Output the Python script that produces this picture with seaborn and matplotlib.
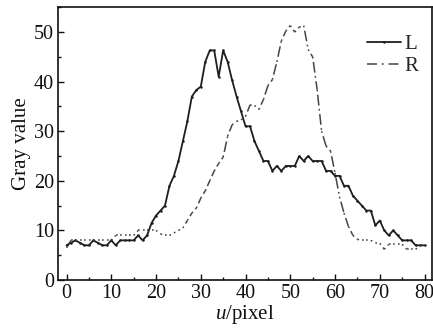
import numpy as np
import pandas as pd
import matplotlib
matplotlib.use("Agg")
import matplotlib.pyplot as plt
import seaborn as sns
from matplotlib.ticker import MultipleLocator
from matplotlib.collections import LineCollection
from matplotlib.lines import Line2D

u = list(range(0, 81))

gray_L = [7, 7.5, 8, 7.5, 7, 7, 8, 7.5, 7, 7, 8, 7, 8, 8, 8, 8, 9, 8, 9, 11.5,
          13, 14, 15, 19, 21, 24, 28, 32, 37, 38.3, 39, 44, 46.3, 46.3, 41, 46.3, 44, 40.3, 37, 34,
          31, 31, 28, 26, 24, 24, 22, 23, 22, 23, 23, 23, 25, 24, 25, 24, 24, 24, 22, 22,
          21, 21, 19, 19, 17, 16, 15, 14, 14, 11, 12, 10, 9, 10, 9, 8, 8, 8, 7, 7, 7]

gray_R = [6.5, 8, 8, 8, 8, 8, 8, 8, 8, 8, 8, 9, 9, 9, 9, 9, 10, 10, 10, 10,
          10, 9.3, 9, 9, 9.5, 10, 10.5, 12, 13.5, 14.5, 16.5, 18, 20, 22, 23.5, 24.8, 29, 31.3, 32, 32.3,
          33, 35.3, 35.2, 34.4, 36.4, 39.2, 40.4, 44, 48.2, 50.2, 51.3, 50, 51, 51.3, 46.5, 45, 38.4, 30, 27, 26,
          21.6, 16.8, 13.5, 10.8, 9, 8.2, 8, 8, 8, 7.5, 7.4, 6.2, 7.2, 7.2, 7.2, 7.2, 6.2, 6.2, 6.2, 7, 7]

series_names = ["L", "R"]

df = pd.DataFrame({
    "u": u * 2,
    "value": gray_L + gray_R,
    "side": [series_names[0]] * len(u) + [series_names[1]] * len(u),
})

sns.set_style("ticks")
plt.rcParams["font.family"] = ["Liberation Serif", "DejaVu Serif"]
plt.rcParams["mathtext.fontset"] = "custom"
plt.rcParams["mathtext.rm"] = "Liberation Serif"
plt.rcParams["mathtext.it"] = "Liberation Serif:italic"

COL_L = "#1e1e1e"
COL_R = "#444444"
# dot at the sample, gap, long dash, gap
DASH_R = [1.1, 2.3, 7.0, 2.3]

fig = plt.figure(figsize=(4.33, 3.31), dpi=100)
ax = fig.add_axes([0.134, 0.154, 0.863, 0.824])

sns.lineplot(data=df[df.side == "L"], x="u", y="value", ax=ax, color=COL_L,
             linewidth=1.3, marker="o", markersize=1.8, markeredgewidth=0)
sns.lineplot(data=df[df.side == "R"], x="u", y="value", ax=ax, color=COL_R,
             linewidth=1.1)

# The R trace restarts its dash-dot pattern on every segment between samples,
# so flat stretches read as dots and steep stretches as long dashes.
r_line = ax.lines[1]
xy = r_line.get_xydata()
r_line.set_linestyle("none")
segs = np.stack([xy[:-1], xy[1:]], axis=1)
lc = LineCollection(segs, colors=COL_R, linewidths=1.1,
                    linestyles=[(0, DASH_R)], capstyle="butt")
ax.add_collection(lc)

ax.set_xlim(-1.9, 81.6)
ax.set_ylim(0, 55)
ax.xaxis.set_major_locator(MultipleLocator(10))
ax.xaxis.set_minor_locator(MultipleLocator(5))
ax.yaxis.set_major_locator(MultipleLocator(10))
ax.yaxis.set_minor_locator(MultipleLocator(5))
ax.tick_params(which="both", direction="in", top=False, right=False,
               labelsize=14.5, width=1.0, colors="#111111")
ax.tick_params(which="major", length=4.5, pad=3)
ax.tick_params(which="minor", length=2.5)

for sp in ax.spines.values():
    sp.set_visible(True)
    sp.set_linewidth(1.2)
    sp.set_color("#111111")

ax.set_xlabel(r"$u$/pixel", fontsize=15, labelpad=0, color="#111111")
ax.set_ylabel("Gray value", fontsize=15, labelpad=2, color="#111111")

handles = [
    Line2D([], [], color=COL_L, linewidth=1.3, marker="o", markersize=1.8,
           markeredgewidth=0, markevery=[1]),
    Line2D([], [], color=COL_R, linewidth=1.1, dashes=[6.5, 3.2, 1.2, 3.2]),
]
ax.legend(handles, series_names, loc="upper right", bbox_to_anchor=(0.985, 0.93),
          frameon=False, fontsize=15, handlelength=1.6, handletextpad=0.15,
          labelspacing=0.1, borderaxespad=0)

fig.savefig("out.png", dpi=100)
